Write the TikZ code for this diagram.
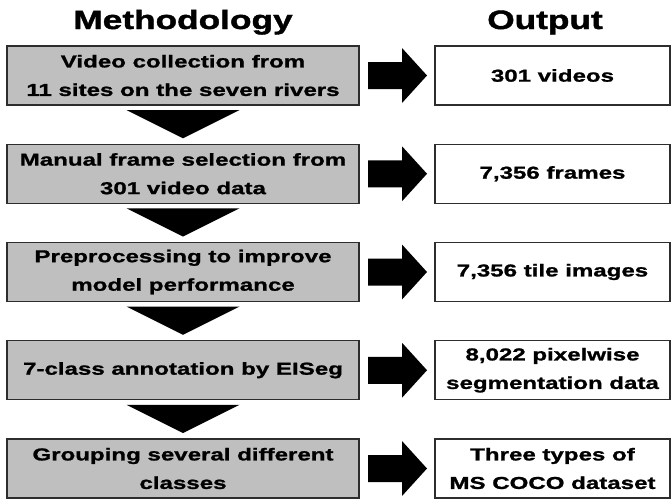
\documentclass[tikz,border=0pt]{standalone}
\usepackage{fontspec}
\setmainfont[FakeStretch=1.4, BoldFeatures={FakeBold=1.2}]{Liberation Sans}
\newfontfamily\headfont[FakeStretch=1.33, BoldFeatures={FakeBold=1.6}]{Liberation Sans}
\usetikzlibrary{positioning,calc}
\definecolor{boxgray}{RGB}{191,191,191}
\definecolor{edgegray}{RGB}{45,45,45}

\begin{document}
\begin{tikzpicture}[x=1pt, y=1pt,
    method/.style={draw=edgegray, line width=1.3pt, fill=boxgray,
        minimum width=352pt, minimum height=59pt, inner sep=0pt, outer sep=0pt,
        align=center, font=\fontsize{17.2}{28.5}\selectfont\bfseries},
    result/.style={method, fill=white, minimum width=235pt},
    heading/.style={anchor=base, font=\headfont\fontsize{26.5}{30}\selectfont\bfseries},
    sidearrow/.style={to path={
        ($(\tikztostart.east)+(9,13.5)$) -- ($(\tikztotarget.west)+(-33,13.5)$)
        -- ($(\tikztotarget.west)+(-33,27.5)$) -- ($(\tikztotarget.west)+(-8,0)$)
        -- ($(\tikztotarget.west)+(-33,-27.5)$) -- ($(\tikztotarget.west)+(-33,-13.5)$)
        -- ($(\tikztostart.east)+(9,-13.5)$) -- cycle}},
    downarrow/.style={to path={
        ($(\tikztostart.south)+(-56.5,-5)$) -- ($(\tikztostart.south)+(56.5,-5)$)
        -- ($(\tikztotarget.north)+(0,6)$) -- cycle}}]
    \useasboundingbox (0,0) rectangle (671,-498);

    % Column headings
    \node[heading] (hmeth) at (183,-29) {Methodology};
    \node[heading] (hout) at (545,-29) {Output};

    % Methodology steps
    \node[method] (m1) at (183,-75.5) {Video collection from\\11 sites on the seven rivers};
    \node[method, below=39.25pt of m1] (m2) {Manual frame selection from\\301 video data};
    \node[method, below=39.25pt of m2] (m3) {Preprocessing to improve\\model performance};
    \node[method, below=39.25pt of m3] (m4) {7-class annotation by EISeg};
    \node[method, below=39.25pt of m4] (m5) {Grouping several different\\classes};

    % Outputs
    \node[result, right=76pt of m1] (o1) {301 videos};
    \node[result, right=76pt of m2] (o2) {7,356 frames};
    \node[result, right=76pt of m3] (o3) {7,356 tile images};
    \node[result, right=76pt of m4] (o4) {8,022 pixelwise\\segmentation data};
    \node[result, right=76pt of m5] (o5) {Three types of\\MS COCO dataset};

    % Block arrows step -> output
    \fill (m1) to[sidearrow] (o1);
    \fill (m2) to[sidearrow] (o2);
    \fill (m3) to[sidearrow] (o3);
    \fill (m4) to[sidearrow] (o4);
    \fill (m5) to[sidearrow] (o5);

    % Triangles between steps
    \fill (m1) to[downarrow] (m2);
    \fill (m2) to[downarrow] (m3);
    \fill (m3) to[downarrow] (m4);
    \fill (m4) to[downarrow] (m5);
\end{tikzpicture}
\end{document}
